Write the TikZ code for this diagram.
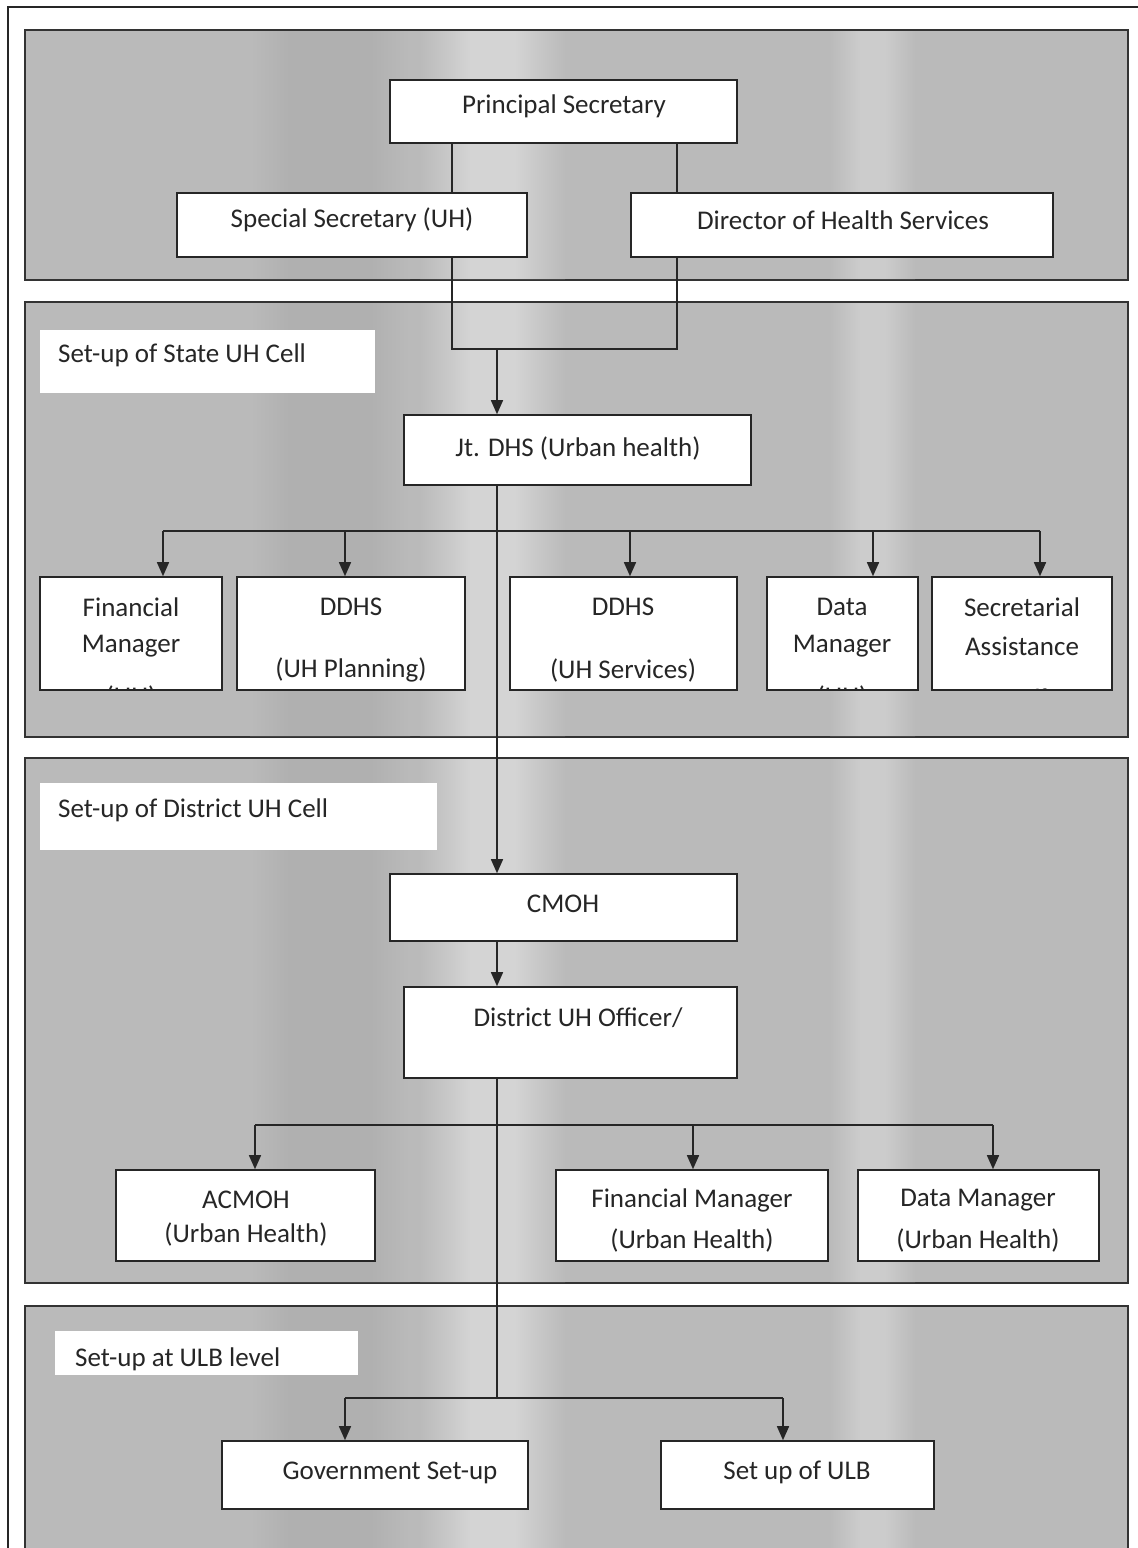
\documentclass[tikz,border=0pt]{standalone}
\usepackage{fontspec}
\setmainfont{Carlito}
\usetikzlibrary{arrows.meta,fit}
\begin{document}
\begin{tikzpicture}[x=1pt,y=-1pt,
 panel/.style={draw=black!80, line width=1.6pt, fill=black!27, inner sep=0pt},
 box/.style={draw=black!85, line width=1.6pt, fill=white, inner sep=0pt},
 lab/.style={fill=white, inner sep=0pt},
 ln/.style={draw=black!85, line width=1.5pt},
 arr/.style={ln, -{Triangle[length=14pt,width=12pt]}},
 txt/.style={font=\fontsize{27}{33}\selectfont, inner sep=0pt, text=black!85},
]
\useasboundingbox (0,0) rectangle (1138,1548);
\fill[white] (0,0) rectangle (1138,1548);
% outer frame
\draw[black!85, line width=1.5pt] (8,1548) -- (8,7) -- (1138,7);
% panels
\node[panel, fit={(25,30)(1128,280)}] (p1) {};
\node[panel, fit={(25,302)(1128,737)}] (p2) {};
\node[panel, fit={(25,758)(1128,1283)}] (p3) {};
\node[panel, fit={(25,1306)(1128,1570)}] (p4) {};
% soft vertical bands (scan texture)
\begin{scope}
\clip (26,31) rectangle (1127,279) (26,303) rectangle (1127,736) (26,759) rectangle (1127,1282) (26,1307) rectangle (1127,1548);
\shade[left color=black!27, right color=black!17] (420,0) rectangle (470,1548);
\fill[black!17] (470,0) rectangle (515,1548);
\shade[left color=black!17, right color=black!27] (515,0) rectangle (565,1548);
\shade[left color=black!27, right color=black!20] (830,0) rectangle (860,1548);
\fill[black!20] (860,0) rectangle (885,1548);
\shade[left color=black!20, right color=black!27] (885,0) rectangle (915,1548);
\shade[left color=black!27, right color=black!31] (250,0) rectangle (290,1548);
\fill[black!31] (290,0) rectangle (370,1548);
\shade[left color=black!31, right color=black!27] (370,0) rectangle (410,1548);
\end{scope}
% label boxes
\node[lab, fit={(40,330)(375,393)}] (lab1) {};
\node[lab, fit={(40,783)(437,850)}] (lab2) {};
\node[lab, fit={(55,1331)(358,1375)}] (lab3) {};
\node[txt, anchor=west] at (58,355) {Set-up of State UH Cell};
\node[txt, anchor=west] at (58,810) {Set-up of District UH Cell};
\node[txt, anchor=west] at (75,1359) {Set-up at ULB level};
% boxes
\node[box, fit={(390,80)(737,143)}] (ps) {};
\node[box, fit={(177,193)(527,257)}] (ss) {};
\node[box, fit={(631,193)(1053,257)}] (dhs) {};
\node[box, fit={(404,415)(751,485)}] (jt) {};
\node[box, fit={(40,577)(222,690)}] (fm) {};
\node[box, fit={(237,577)(465,690)}] (dp) {};
\node[box, fit={(510,577)(737,690)}] (ds) {};
\node[box, fit={(767,577)(918,690)}] (dm) {};
\node[box, fit={(932,577)(1112,690)}] (sa) {};
\node[box, fit={(390,874)(737,941)}] (cmoh) {};
\node[box, fit={(404,987)(737,1078)}] (duo) {};
\node[box, fit={(116,1170)(375,1261)}] (ac) {};
\node[box, fit={(556,1170)(828,1261)}] (fm2) {};
\node[box, fit={(858,1170)(1099,1261)}] (dm2) {};
\node[box, fit={(222,1441)(528,1509)}] (gov) {};
\node[box, fit={(661,1441)(934,1509)}] (ulb) {};
% texts
\node[txt] at (564,106) {Principal Secretary};
\node[txt] at (352,220) {Special Secretary (UH)};
\node[txt] at (843,220) {Director of Health Services};
\node[txt] at (578,448) {Jt. DHS (Urban health)};
\begin{scope}
\clip (fm.south west) rectangle (fm.north east);
\node[txt] at (131,607) {Financial};
\node[txt] at (131,646) {Manager};
\node[txt] at (131,697) {(UH)};
\end{scope}
\node[txt] at (351,607) {DDHS};
\node[txt] at (351,670) {(UH Planning)};
\node[txt] at (623,607) {DDHS};
\node[txt] at (623,670) {(UH Services)};
\begin{scope}
\clip (dm.south west) rectangle (dm.north east);
\node[txt] at (842,607) {Data};
\node[txt] at (842,646) {Manager};
\node[txt] at (842,697) {(UH)};
\end{scope}
\begin{scope}
\clip (sa.south west) rectangle (sa.north east);
\node[txt] at (1022,607) {Secretarial};
\node[txt] at (1022,646) {Assistance};
\node[txt] at (1022,698) {Staff};
\end{scope}
\node[txt] at (563,904) {CMOH};
\node[txt] at (578,1018) {District UH Officer/};
\node[txt] at (246,1200) {ACMOH};
\node[txt] at (246,1234) {(Urban Health)};
\node[txt] at (692,1200) {Financial Manager};
\node[txt] at (692,1240) {(Urban Health)};
\node[txt] at (978,1200) {Data Manager};
\node[txt] at (978,1240) {(Urban Health)};
\node[txt] at (390,1473) {Government Set-up};
\node[txt] at (797,1472) {Set up of ULB};
% connectors
\coordinate (a1) at (452,143);
\coordinate (a2) at (677,143);
\coordinate (m) at (497,349);
\draw[ln] (a1) -- (a1 |- ss.north);
\draw[ln] (a2) -- (a2 |- dhs.north);
\draw[ln] (a1 |- ss.south) |- (m) -| (a2 |- dhs.south);
\draw[arr] (m) -- (m |- jt.north);
% state cell
\coordinate (j) at (497,531);
\draw[arr] (j |- jt.south) -- (j |- cmoh.north);
\coordinate (b1) at (163,531);
\coordinate (b2) at (345,531);
\coordinate (b3) at (630,531);
\coordinate (b4) at (873,531);
\coordinate (b5) at (1040,531);
\draw[ln] (b1) -- (b5);
\draw[arr] (b1) -- (b1 |- fm.north);
\draw[arr] (b2) -- (b2 |- dp.north);
\draw[arr] (b3) -- (b3 |- ds.north);
\draw[arr] (b4) -- (b4 |- dm.north);
\draw[arr] (b5) -- (b5 |- sa.north);
% district cell
\draw[arr] (j |- cmoh.south) -- (j |- duo.north);
\coordinate (u) at (497,1398);
\draw[ln] (j |- duo.south) -- (u);
\coordinate (c1) at (255,1125);
\coordinate (c2) at (693,1125);
\coordinate (c3) at (993,1125);
\draw[ln] (c1) -- (c3);
\draw[arr] (c1) -- (c1 |- ac.north);
\draw[arr] (c2) -- (c2 |- fm2.north);
\draw[arr] (c3) -- (c3 |- dm2.north);
% ULB
\coordinate (d1) at (345,1398);
\coordinate (d2) at (783,1398);
\draw[ln] (d1) -- (d2);
\draw[arr] (d1) -- (d1 |- gov.north);
\draw[arr] (d2) -- (d2 |- ulb.north);
\end{tikzpicture}
\end{document}
